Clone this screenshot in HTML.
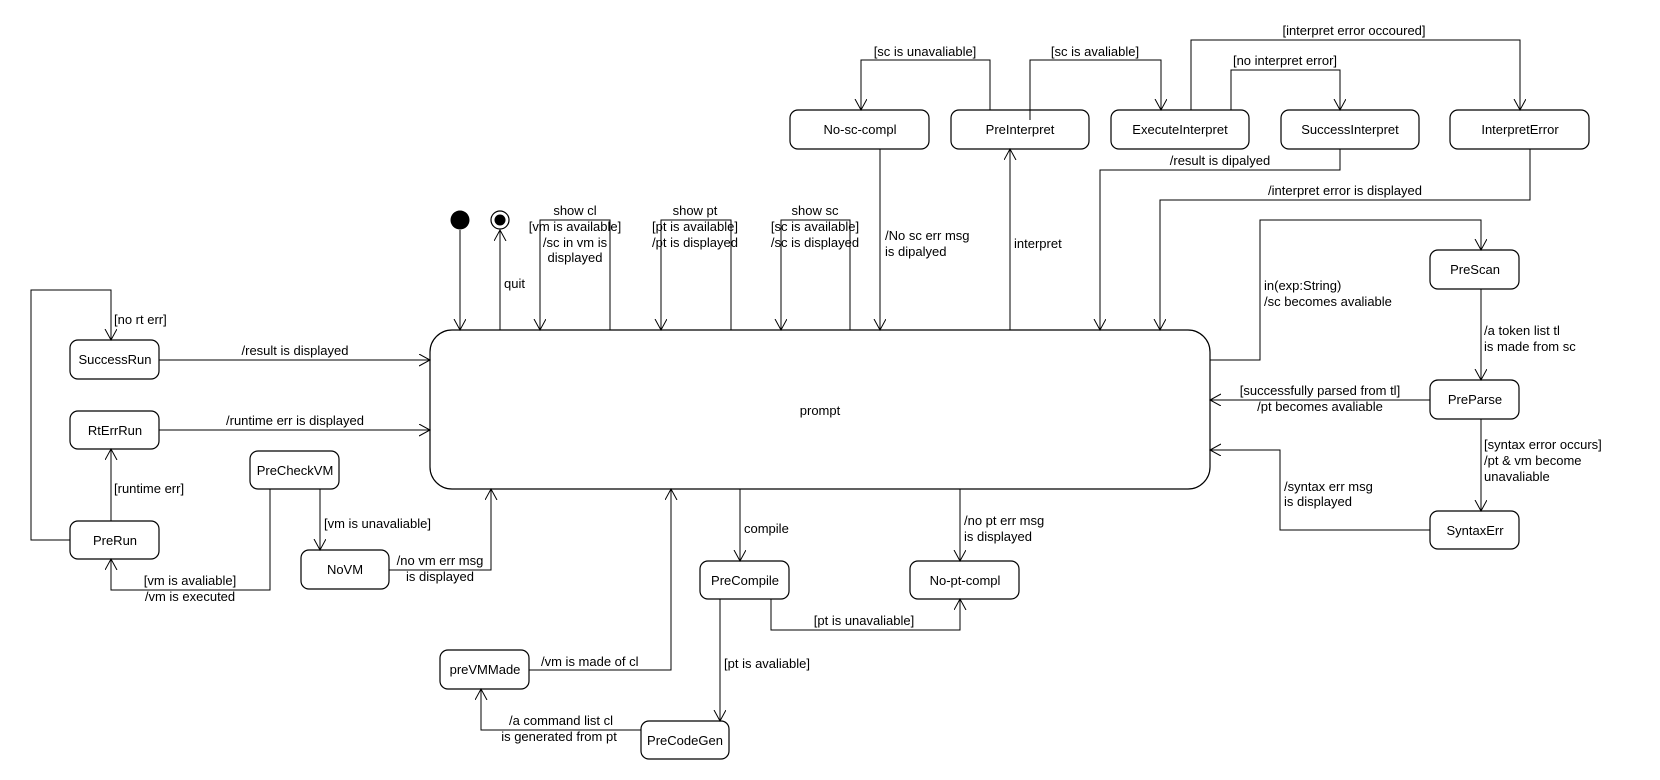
<!DOCTYPE html>
<html><head><meta charset="utf-8"><style>
html,body{margin:0;padding:0;background:#fff;}
svg{display:block;}
text{font-family:"Liberation Sans",sans-serif;font-size:13px;fill:#000;}
</style></head><body>
<svg width="1660" height="780" viewBox="0 0 1660 780" xmlns="http://www.w3.org/2000/svg">
<defs>
<marker id="a" markerUnits="userSpaceOnUse" markerWidth="14" markerHeight="14" refX="11" refY="6" orient="auto">
<path d="M0,0 L11,6 L0,12" fill="none" stroke="#000" stroke-width="1"/>
</marker>
</defs>
<g fill="#fff" stroke="#000" stroke-width="1.2">
<rect x="430" y="330" width="780" height="159" rx="22"/>
<rect x="70" y="340" width="89" height="39" rx="8"/>
<rect x="70" y="411" width="89" height="38" rx="8"/>
<rect x="250" y="451" width="89" height="38" rx="8"/>
<rect x="70" y="521" width="89" height="38" rx="8"/>
<rect x="301" y="550" width="88" height="39" rx="8"/>
<rect x="700" y="561" width="89" height="38" rx="8"/>
<rect x="641" y="721" width="88" height="38" rx="8"/>
<rect x="440" y="650" width="89" height="39" rx="8"/>
<rect x="910" y="561" width="109" height="38" rx="8"/>
<rect x="1430" y="250" width="89" height="39" rx="8"/>
<rect x="1430" y="380" width="89" height="39" rx="8"/>
<rect x="1430" y="511" width="89" height="38" rx="8"/>
<rect x="790" y="110" width="139" height="39" rx="8"/>
<rect x="951" y="110" width="138" height="39" rx="8"/>
<rect x="1111" y="110" width="138" height="39" rx="8"/>
<rect x="1281" y="110" width="138" height="39" rx="8"/>
<rect x="1450" y="110" width="139" height="39" rx="8"/>
</g>
<circle cx="460" cy="220" r="9.5" fill="#000"/>
<circle cx="500" cy="220" r="9" fill="#fff" stroke="#000" stroke-width="1.2"/>
<circle cx="500" cy="220" r="5.5" fill="#000"/>
<g fill="none" stroke="#000" stroke-width="1" marker-end="url(#a)">
<polyline points="460,230 460,330"/>
<polyline points="500,330 500,230"/>
<polyline points="610,330 610,220 540,220 540,330"/>
<polyline points="731,330 731,220 661,220 661,330"/>
<polyline points="850,330 850,220 781,220 781,330"/>
<polyline points="159,360 430,360"/>
<polyline points="159,430 430,430"/>
<polyline points="70,540 31,540 31,290 111,290 111,340"/>
<polyline points="111,521 111,449"/>
<polyline points="270,489 270,590 111,590 111,559"/>
<polyline points="320,489 320,550"/>
<polyline points="389,570 491,570 491,489"/>
<polyline points="740,489 740,561"/>
<polyline points="720,599 720,721"/>
<polyline points="641,730 481,730 481,689"/>
<polyline points="529,670 671,670 671,489"/>
<polyline points="771,599 771,630 960,630 960,599"/>
<polyline points="960,489 960,561"/>
<polyline points="1430,400 1210,400"/>
<polyline points="1481,419 1481,511"/>
<polyline points="1430,530 1280,530 1280,450 1210,450"/>
<polyline points="1210,360 1260,360 1260,220 1481,220 1481,250"/>
<polyline points="1481,289 1481,380"/>
<polyline points="880,149 880,330"/>
<polyline points="1010,330 1010,149"/>
<polyline points="990,110 990,60 861,60 861,110"/>
<polyline points="1030,120 1030,60 1161,60 1161,110"/>
<polyline points="1231,110 1231,70 1340,70 1340,110"/>
<polyline points="1191,110 1191,40 1520,40 1520,110"/>
<polyline points="1340,149 1340,170 1100,170 1100,330"/>
<polyline points="1530,149 1530,200 1160,200 1160,330"/>
</g>
<g text-anchor="middle">
<text x="820" y="415">prompt</text>
<text x="115" y="364">SuccessRun</text>
<text x="115" y="435">RtErrRun</text>
<text x="295" y="475">PreCheckVM</text>
<text x="115" y="545">PreRun</text>
<text x="345" y="574">NoVM</text>
<text x="745" y="585">PreCompile</text>
<text x="685" y="745">PreCodeGen</text>
<text x="485" y="674">preVMMade</text>
<text x="965" y="585">No-pt-compl</text>
<text x="1475" y="274">PreScan</text>
<text x="1475" y="404">PreParse</text>
<text x="1475" y="535">SyntaxErr</text>
<text x="860" y="134">No-sc-compl</text>
<text x="1020" y="134">PreInterpret</text>
<text x="1180" y="134">ExecuteInterpret</text>
<text x="1350" y="134">SuccessInterpret</text>
<text x="1520" y="134">InterpretError</text>
<text x="575" y="215">show cl</text>
<text x="575" y="231">[vm  is available]</text>
<text x="575" y="247">/sc in vm is</text>
<text x="575" y="262">displayed</text>
<text x="695" y="215">show pt</text>
<text x="695" y="231">[pt  is available]</text>
<text x="695" y="247">/pt is displayed</text>
<text x="815" y="215">show sc</text>
<text x="815" y="231">[sc  is available]</text>
<text x="815" y="247">/sc is displayed</text>
<text x="295" y="355">/result is displayed</text>
<text x="295" y="425">/runtime err is displayed</text>
<text x="190" y="585">[vm is avaliable]</text>
<text x="190" y="601">/vm is executed</text>
<text x="440" y="565">/no vm err msg</text>
<text x="440" y="581">is displayed</text>
<text x="561" y="725">/a command list cl</text>
<text x="559" y="741">is generated from pt</text>
<text x="864" y="625">[pt is unavaliable]</text>
<text x="1320" y="395">[successfully parsed from tl]</text>
<text x="1320" y="411">/pt becomes avaliable</text>
<text x="925" y="56">[sc is unavaliable]</text>
<text x="1095" y="56">[sc is avaliable]</text>
<text x="1285" y="65">[no interpret error]</text>
<text x="1354" y="35">[interpret error occoured]</text>
<text x="1220" y="165">/result is dipalyed</text>
<text x="1345" y="195">/interpret error is displayed</text>
</g>
<g>
<text x="504" y="288">quit</text>
<text x="114" y="324">[no rt err]</text>
<text x="114" y="493">[runtime err]</text>
<text x="324" y="528">[vm is unavaliable]</text>
<text x="744" y="533">compile</text>
<text x="724" y="668">[pt is avaliable]</text>
<text x="541" y="666">/vm is made of cl</text>
<text x="964" y="525">/no pt err msg</text>
<text x="964" y="541">is displayed</text>
<text x="1484" y="449">[syntax error occurs]</text>
<text x="1484" y="465">/pt &amp; vm become</text>
<text x="1484" y="481">unavaliable</text>
<text x="1284" y="491">/syntax err msg</text>
<text x="1284" y="506">is displayed</text>
<text x="1264" y="290">in(exp:String)</text>
<text x="1264" y="306">/sc becomes avaliable</text>
<text x="1484" y="335">/a token list tl</text>
<text x="1484" y="351">is made from sc</text>
<text x="885" y="240">/No sc err msg</text>
<text x="885" y="256">is dipalyed</text>
<text x="1014" y="248">interpret</text>
</g>
</svg>
</body></html>
